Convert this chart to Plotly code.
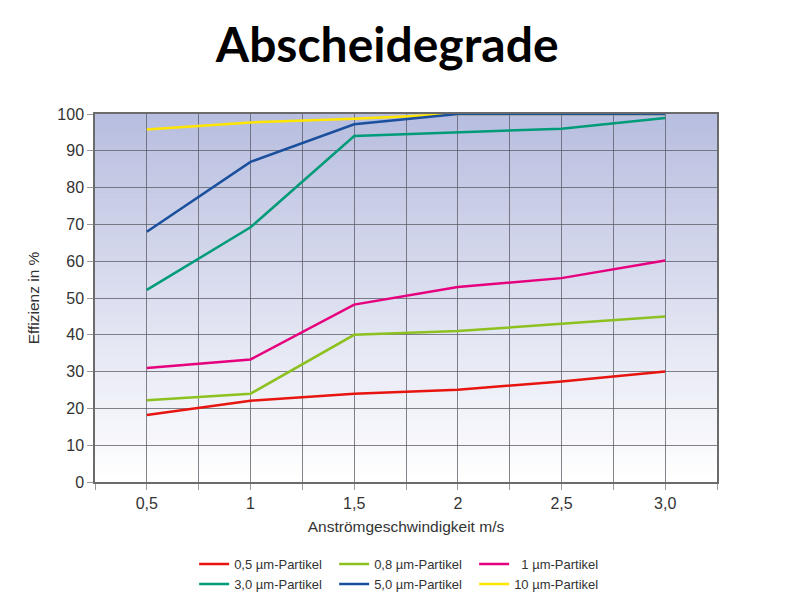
import plotly.graph_objects as go

speeds = [0.5, 1.0, 1.5, 2.0, 2.5, 3.0]
series_names = ["0,5 µm-Partikel", "0,8 µm-Partikel", "  1 µm-Partikel",
                "3,0 µm-Partikel", "5,0 µm-Partikel", "10 µm-Partikel"]
eff_05 = [18.2, 22.1, 24.0, 25.1, 27.3, 30.0]
eff_08 = [22.2, 24.0, 40.0, 41.0, 43.0, 45.0]
eff_1 = [31.0, 33.3, 48.2, 53.0, 55.4, 60.2]
eff_3 = [52.2, 69.2, 94.0, 95.0, 96.0, 98.9]
eff_5 = [68.0, 87.0, 97.2, 100.0, 100.0, 100.0]
eff_10 = [95.8, 97.7, 98.7, 100.0, 100.0, 100.0]

x_tickvals = [0.25, 0.5, 0.75, 1.0, 1.25, 1.5, 1.75, 2.0, 2.25, 2.5, 2.75, 3.0, 3.25]
x_ticktext = ["", "0,5", "", "1", "", "1,5", "", "2", "", "2,5", "", "3,0", ""]
y_tickvals = [0, 10, 20, 30, 40, 50, 60, 70, 80, 90, 100]

colors = ["#e8140f", "#8cc11f", "#e6007e", "#009b78", "#1a4f9d", "#ffe500"]
order = [0, 1, 2, 3, 5, 4]  # draw yellow before blue
legend_ids = ["legend", "legend", "legend", "legend2", "legend2", "legend2"]

fig = go.Figure()
data_map = {0: eff_05, 1: eff_08, 2: eff_1, 3: eff_3, 4: eff_5, 5: eff_10}
for i in order:
    fig.add_trace(go.Scatter(
        x=speeds, y=data_map[i], mode="lines", name=series_names[i],
        line=dict(color=colors[i], width=2.5),
        legend=legend_ids[i], legendrank=i,
    ))

# gradient background bands
n = 60
top = (184, 190, 223)
for k in range(n):
    t = k / (n - 1)  # 0 bottom, 1 top
    r = round(255 + (top[0] - 255) * t)
    g = round(255 + (top[1] - 255) * t)
    b = round(255 + (top[2] - 255) * t)
    fig.add_shape(type="rect", xref="x domain", yref="y domain",
                  x0=0, x1=1, y0=k / n, y1=(k + 1) / n + 0.002,
                  fillcolor=f"rgb({r},{g},{b})", line=dict(width=0), layer="below")

font_family = "Liberation Sans, Arial, sans-serif"
legend_common = dict(orientation="h", x=0.497, xanchor="center", yref="container", yanchor="middle",
                     font=dict(size=13, color="#333333"), entrywidth=95, itemwidth=30,
                     bgcolor="rgba(0,0,0,0)")
fig.update_layout(
    width=800, height=609,
    margin=dict(l=95, r=83, t=114, b=127, autoexpand=False),
    paper_bgcolor="white", plot_bgcolor="white",
    title=dict(text="<b>Abscheidegrade</b>", x=0.484, xanchor="center", y=0.926, yanchor="middle",
               font=dict(family="Lato, sans-serif", size=48, color="black")),
    font=dict(family=font_family, color="#333333"),
    showlegend=True,
    legend=dict(y=1 - 564 / 609, **legend_common),
    legend2=dict(y=1 - 584 / 609, **legend_common),
    xaxis=dict(range=[0.25, 3.25], tickmode="array", tickvals=x_tickvals, ticktext=x_ticktext,
               showgrid=True, gridcolor="rgba(90,90,100,0.75)", gridwidth=1,
               showline=True, linecolor="#6b6b6b", linewidth=1.5, mirror=True,
               ticks="outside", ticklen=6, tickcolor="#999999",
               tickfont=dict(size=16, color="#333333"),
               title=dict(text="Anströmgeschwindigkeit m/s", font=dict(size=15.5, color="#333333"), standoff=10),
               zeroline=False),
    yaxis=dict(range=[0, 100], tickmode="array", tickvals=y_tickvals,
               showgrid=True, gridcolor="rgba(90,90,100,0.75)", gridwidth=1,
               showline=True, linecolor="#6b6b6b", linewidth=1.5, mirror=True,
               ticks="outside", ticklen=6, tickcolor="#999999",
               tickfont=dict(size=16, color="#333333"),
               title=dict(text="Effizienz in %", font=dict(size=15.5, color="#333333"), standoff=14),
               zeroline=False),
)

fig.write_html("out.html")
